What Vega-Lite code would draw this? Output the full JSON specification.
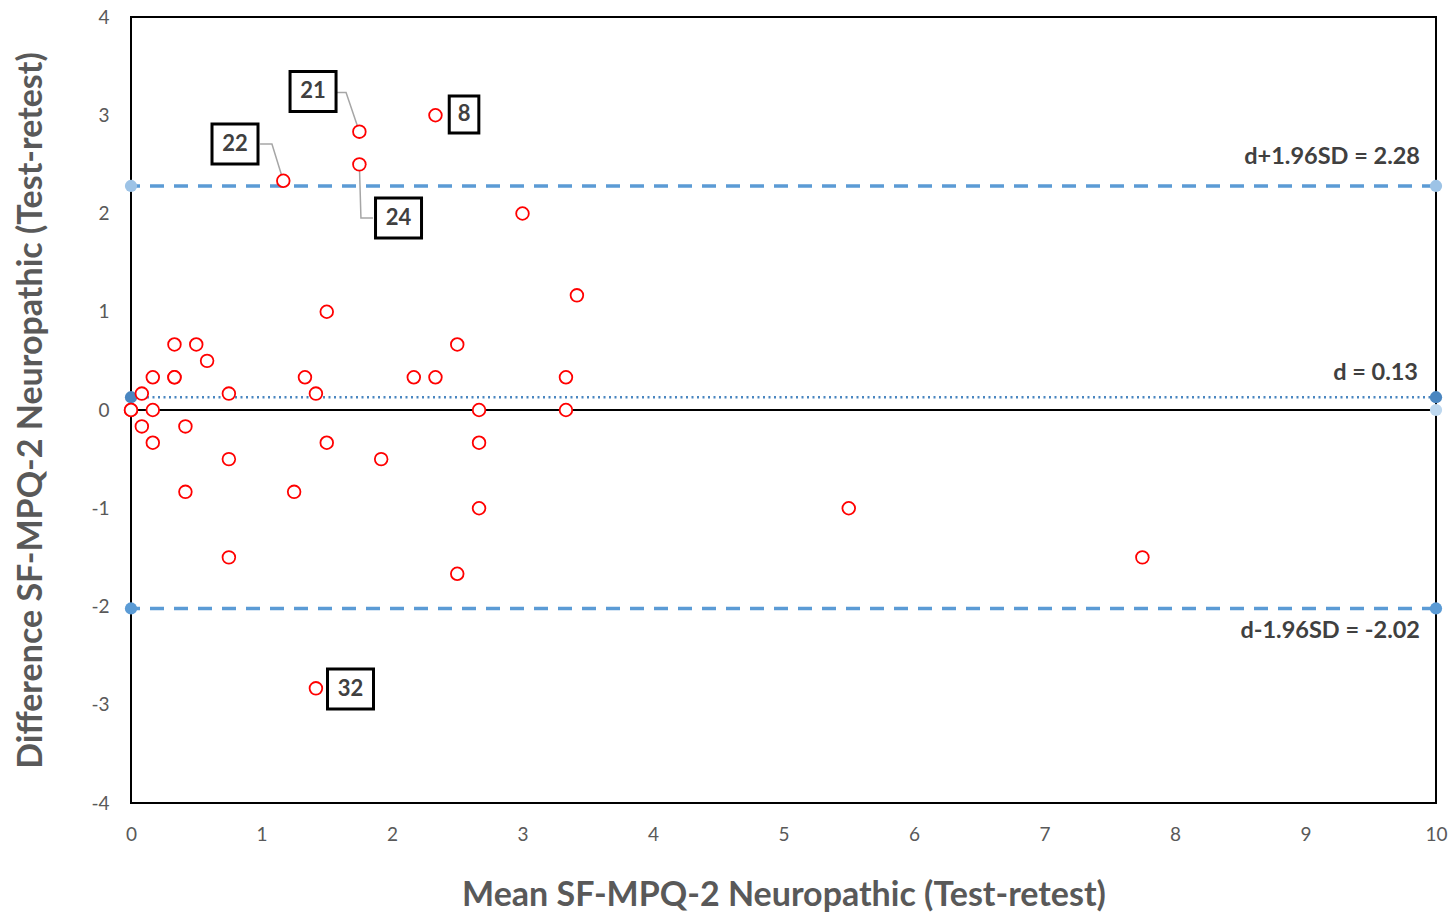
{
  "$schema": "https://vega.github.io/schema/vega-lite/v6.json",
  "width": 1305,
  "height": 786,
  "autosize": {"type": "none"},
  "padding": {"left": 131, "top": 17, "right": 20, "bottom": 117},
  "background": "white",
  "config": {
    "view": {"stroke": "#000000", "strokeWidth": 2},
    "font": "Lato",
    "axis": {
      "grid": false, "ticks": false, "domain": false, "labelFlush": false,
      "labelFont": "Lato", "labelFontSize": 19, "labelColor": "#595959",
      "titleFont": "Lato", "titleFontSize": 34, "titleFontWeight": "bold", "titleColor": "#595959"
    }
  },
  "datasets": {
    "pts": [
      {"mean": 0, "diff": 0}, {"mean": 0, "diff": 0},
      {"mean": 0.083, "diff": 0.167}, {"mean": 0.167, "diff": 0.333},
      {"mean": 0.083, "diff": -0.167}, {"mean": 0.167, "diff": 0},
      {"mean": 0.167, "diff": -0.333}, {"mean": 0.333, "diff": 0.667},
      {"mean": 0.333, "diff": 0.333}, {"mean": 0.333, "diff": 0.333},
      {"mean": 0.5, "diff": 0.667}, {"mean": 0.583, "diff": 0.5},
      {"mean": 0.417, "diff": -0.167}, {"mean": 0.417, "diff": -0.833},
      {"mean": 0.75, "diff": 0.167}, {"mean": 0.75, "diff": -0.5},
      {"mean": 0.75, "diff": -1.5}, {"mean": 1.167, "diff": 2.333},
      {"mean": 1.25, "diff": -0.833}, {"mean": 1.333, "diff": 0.333},
      {"mean": 1.417, "diff": 0.167}, {"mean": 1.417, "diff": -2.833},
      {"mean": 1.5, "diff": 1.0}, {"mean": 1.5, "diff": -0.333},
      {"mean": 1.75, "diff": 2.833}, {"mean": 1.75, "diff": 2.5},
      {"mean": 1.917, "diff": -0.5}, {"mean": 2.167, "diff": 0.333},
      {"mean": 2.333, "diff": 0.333}, {"mean": 2.333, "diff": 3.0},
      {"mean": 2.5, "diff": 0.667}, {"mean": 2.5, "diff": -1.667},
      {"mean": 2.667, "diff": 0}, {"mean": 2.667, "diff": -0.333},
      {"mean": 2.667, "diff": -1.0}, {"mean": 3.0, "diff": 2.0},
      {"mean": 3.333, "diff": 0.333}, {"mean": 3.333, "diff": 0},
      {"mean": 3.417, "diff": 1.167}, {"mean": 5.5, "diff": -1.0},
      {"mean": 7.75, "diff": -1.5}
    ],
    "refs": [
      {"kind": "zero", "value": 0},
      {"kind": "mean", "value": 0.13},
      {"kind": "upper", "value": 2.28},
      {"kind": "lower", "value": -2.02}
    ],
    "ends": [
      {"kind": "mean", "value": 0.13, "end": 0},
      {"kind": "mean", "value": 0.13, "end": 10},
      {"kind": "upper", "value": 2.28, "end": 0},
      {"kind": "upper", "value": 2.28, "end": 10},
      {"kind": "lower", "value": -2.02, "end": 0},
      {"kind": "lower", "value": -2.02, "end": 10},
      {"kind": "zero", "value": 0, "end": 10}
    ],
    "reflabels": [
      {"kind": "upper", "value": 2.28, "text": "d+1.96SD = 2.28"},
      {"kind": "mean", "value": 0.13, "text": "d = 0.13"},
      {"kind": "lower", "value": -2.02, "text": "d-1.96SD = -2.02"}
    ],
    "notes": [
      {"id": "21", "lx": 1.395, "ly": 3.242},
      {"id": "22", "lx": 0.797, "ly": 2.707},
      {"id": "24", "lx": 2.05, "ly": 1.954},
      {"id": "32", "lx": 1.682, "ly": -2.84},
      {"id": "8", "lx": 2.552, "ly": 3.008}
    ],
    "leaders": [
      {"id": "21", "step": 1, "lx": 1.563, "ly": 3.232},
      {"id": "21", "step": 2, "lx": 1.648, "ly": 3.232},
      {"id": "21", "step": 3, "lx": 1.75, "ly": 2.833},
      {"id": "22", "step": 1, "lx": 0.989, "ly": 2.707},
      {"id": "22", "step": 2, "lx": 1.08, "ly": 2.707},
      {"id": "22", "step": 3, "lx": 1.167, "ly": 2.333},
      {"id": "24", "step": 1, "lx": 1.75, "ly": 2.5},
      {"id": "24", "step": 2, "lx": 1.762, "ly": 1.954},
      {"id": "24", "step": 3, "lx": 1.854, "ly": 1.954}
    ]
  },
  "layer": [
    {
      "data": {"name": "refs"},
      "transform": [{"filter": "datum.kind == 'zero'"}],
      "mark": {"type": "rule", "color": "#000000", "strokeWidth": 2},
      "encoding": {
        "y": {"field": "value", "type": "quantitative", "scale": {"domain": [-4, 4], "nice": false}, "axis": {"values": [-4, -3, -2, -1, 0, 1, 2, 3, 4], "labelExpr": "'' + datum.value", "labelPadding": 22, "title": "Difference SF-MPQ-2 Neuropathic (Test-retest)", "titlePadding": 42}}
      }
    },
    {
      "data": {"name": "refs"},
      "transform": [{"filter": "datum.kind == 'mean'"}],
      "mark": {"type": "rule", "color": "#4a86c0", "strokeWidth": 2.5, "strokeDash": [2, 3.5]},
      "encoding": {"y": {"field": "value", "type": "quantitative"}}
    },
    {
      "data": {"name": "refs"},
      "transform": [{"filter": "datum.kind == 'upper' || datum.kind == 'lower'"}],
      "mark": {"type": "rule", "color": "#5b9bd5", "strokeWidth": 3.5, "strokeDash": [14, 10]},
      "encoding": {"y": {"field": "value", "type": "quantitative"}}
    },
    {
      "data": {"name": "ends"},
      "mark": {"type": "point", "filled": true, "opacity": 1, "size": 150, "shape": "circle"},
      "encoding": {
        "x": {"field": "end", "type": "quantitative"},
        "y": {"field": "value", "type": "quantitative"},
        "color": {"field": "kind", "type": "nominal", "legend": null,
          "scale": {"domain": ["mean", "upper", "lower", "zero"], "range": ["#4a86c0", "#9dc3e6", "#5b9bd5", "#bdd7ee"]}}
      }
    },
    {
      "data": {"name": "leaders"},
      "mark": {"type": "line", "color": "#a6a6a6", "strokeWidth": 1.5},
      "encoding": {
        "x": {"field": "lx", "type": "quantitative"},
        "y": {"field": "ly", "type": "quantitative"},
        "detail": {"field": "id"},
        "order": {"field": "step"}
      }
    },
    {
      "data": {"name": "pts"},
      "mark": {"type": "point", "shape": "circle", "size": 160, "stroke": "#ff0000", "strokeWidth": 1.8, "fill": "#ffffff", "filled": false, "opacity": 1, "fillOpacity": 1},
      "encoding": {
        "x": {"field": "mean", "type": "quantitative", "scale": {"domain": [0, 10], "nice": false}, "axis": {"values": [0, 1, 2, 3, 4, 5, 6, 7, 8, 9, 10], "labelExpr": "'' + datum.value", "labelPadding": 22, "title": "Mean SF-MPQ-2 Neuropathic (Test-retest)", "titlePadding": 34}},
        "y": {"field": "diff", "type": "quantitative"}
      }
    },
    {
      "data": {"name": "notes"},
      "transform": [{"filter": "datum.id != '8'"}],
      "mark": {"type": "point", "shape": "M-1.15,-1H1.15V1H-1.15Z", "size": 1600, "stroke": "#000000", "strokeWidth": 3, "fill": "#ffffff", "filled": false, "opacity": 1, "fillOpacity": 1},
      "encoding": {
        "x": {"field": "lx", "type": "quantitative"},
        "y": {"field": "ly", "type": "quantitative"}
      }
    },
    {
      "data": {"name": "notes"},
      "transform": [{"filter": "datum.id == '8'"}],
      "mark": {"type": "point", "shape": "M-0.8,-1H0.8V1H-0.8Z", "size": 1369, "stroke": "#000000", "strokeWidth": 3, "fill": "#ffffff", "filled": false, "opacity": 1, "fillOpacity": 1},
      "encoding": {
        "x": {"field": "lx", "type": "quantitative"},
        "y": {"field": "ly", "type": "quantitative"}
      }
    },
    {
      "data": {"name": "notes"},
      "mark": {"type": "text", "font": "Lato", "fontSize": 22, "fontWeight": "bold", "color": "#404040", "align": "center", "baseline": "middle"},
      "encoding": {
        "x": {"field": "lx", "type": "quantitative"},
        "y": {"field": "ly", "type": "quantitative"},
        "text": {"field": "id"}
      }
    },
    {
      "data": {"name": "reflabels"},
      "transform": [{"filter": "datum.kind == 'upper'"}],
      "mark": {"type": "text", "font": "Lato", "fontSize": 23.5, "fontWeight": "bold", "color": "#404040", "align": "right", "baseline": "middle", "dx": -16, "dy": -29},
      "encoding": {
        "x": {"datum": 10, "type": "quantitative"},
        "y": {"field": "value", "type": "quantitative"},
        "text": {"field": "text"}
      }
    },
    {
      "data": {"name": "reflabels"},
      "transform": [{"filter": "datum.kind == 'mean'"}],
      "mark": {"type": "text", "font": "Lato", "fontSize": 23.5, "fontWeight": "bold", "color": "#404040", "align": "right", "baseline": "middle", "dx": -18, "dy": -24},
      "encoding": {
        "x": {"datum": 10, "type": "quantitative"},
        "y": {"field": "value", "type": "quantitative"},
        "text": {"field": "text"}
      }
    },
    {
      "data": {"name": "reflabels"},
      "transform": [{"filter": "datum.kind == 'lower'"}],
      "mark": {"type": "text", "font": "Lato", "fontSize": 23.5, "fontWeight": "bold", "color": "#404040", "align": "right", "baseline": "middle", "dx": -16, "dy": 23},
      "encoding": {
        "x": {"datum": 10, "type": "quantitative"},
        "y": {"field": "value", "type": "quantitative"},
        "text": {"field": "text"}
      }
    }
  ]
}
